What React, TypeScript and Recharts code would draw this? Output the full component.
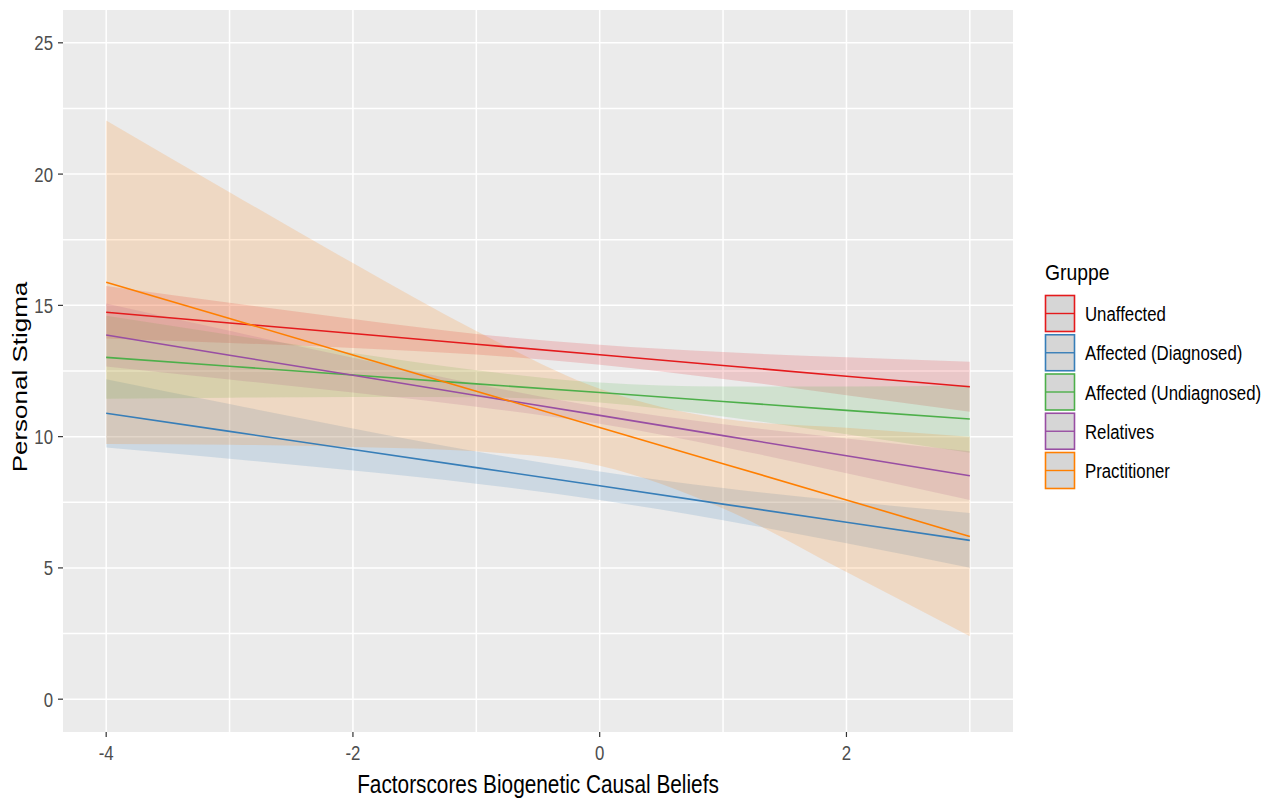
import { Area, CartesianGrid, ComposedChart, Line, XAxis, YAxis } from 'recharts'

const xs = [-4, -3, -2, -1, 0, 1, 2, 3]

const groups = ['Unaffected', 'Affected (Diagnosed)', 'Affected (Undiagnosed)', 'Relatives', 'Practitioner']
const colors = ['#E41A1C', '#377EB8', '#4DAF4A', '#984EA3', '#FF7F00']

const unaffectedFit = [14.74, 14.33, 13.93, 13.52, 13.12, 12.71, 12.3, 11.9]
const unaffectedLow = [13.74, 13.57, 13.38, 13.13, 12.74, 12.2, 11.58, 10.95]
const unaffectedHigh = [15.74, 15.1, 14.48, 13.91, 13.5, 13.22, 13.02, 12.85]

const diagnosedFit = [10.89, 10.2, 9.51, 8.82, 8.13, 7.43, 6.74, 6.05]
const diagnosedLow = [9.59, 9.16, 8.71, 8.21, 7.59, 6.82, 5.94, 5.01]
const diagnosedHigh = [12.19, 11.24, 10.31, 9.43, 8.67, 8.04, 7.54, 7.09]

const undiagnosedFit = [13.02, 12.68, 12.35, 12.01, 11.68, 11.34, 11.0, 10.67]
const undiagnosedLow = [11.44, 11.48, 11.51, 11.5, 11.3, 10.77, 10.09, 9.39]
const undiagnosedHigh = [14.6, 13.88, 13.19, 12.53, 12.06, 11.91, 11.91, 11.95]

const relativesFit = [13.87, 13.1, 12.34, 11.57, 10.81, 10.04, 9.27, 8.51]
const relativesLow = [12.67, 12.18, 11.68, 11.14, 10.49, 9.61, 8.61, 7.59]
const relativesHigh = [15.07, 14.03, 13.0, 12.0, 11.13, 10.47, 9.93, 9.44]

const practitionerFit = [15.88, 14.5, 13.11, 11.73, 10.35, 8.97, 7.59, 6.2]
const practitionerLow = [9.72, 9.69, 9.61, 9.44, 8.89, 7.26, 4.84, 2.4]
const practitionerHigh = [22.04, 19.31, 16.61, 14.02, 11.82, 10.68, 10.34, 10.0]

const fits = [unaffectedFit, diagnosedFit, undiagnosedFit, relativesFit, practitionerFit]
const lows = [unaffectedLow, diagnosedLow, undiagnosedLow, relativesLow, practitionerLow]
const highs = [unaffectedHigh, diagnosedHigh, undiagnosedHigh, relativesHigh, practitionerHigh]

const xTicks = [-4, -2, 0, 2]
const yTicks = [0, 5, 10, 15, 20, 25]
const xGrid = [-4, -3, -2, -1, 0, 1, 2, 3]
const yGrid = [0, 2.5, 5, 7.5, 10, 12.5, 15, 17.5, 20, 22.5, 25]

const data = xs.map((x, i) => {
  const row: Record<string, any> = { x }
  groups.forEach((_, g) => {
    row[`fit${g}`] = fits[g][i]
    row[`band${g}`] = [lows[g][i], highs[g][i]]
  })
  return row
})

const FONT = '"Liberation Sans", Arial, sans-serif'
const SQUEEZE = 0.8

function XTick(props: any) {
  const { x, y, payload } = props
  return (
    <g transform={`translate(${x},${y})`}>
      <text transform={`scale(${SQUEEZE},1)`} textAnchor="middle" dy="0.71em" fill="#4D4D4D" fontSize={21} fontFamily={FONT}>
        {payload.value}
      </text>
    </g>
  )
}

function YTick(props: any) {
  const { x, y, payload } = props
  return (
    <g transform={`translate(${x},${y})`}>
      <text transform={`scale(${SQUEEZE},1)`} textAnchor="end" dy="0.355em" fill="#4D4D4D" fontSize={21} fontFamily={FONT}>
        {payload.value}
      </text>
    </g>
  )
}

function XTitle(props: any) {
  const vb = props.viewBox || { x: 63, y: 732, width: 950, height: 69 }
  const cx = vb.x + vb.width / 2
  return (
    <text transform={`translate(${cx},793) scale(${SQUEEZE},1)`} textAnchor="middle" fill="#000" fontSize={26} fontFamily={FONT}>
      Factorscores Biogenetic Causal Beliefs
    </text>
  )
}

function YTitle(props: any) {
  const vb = props.viewBox || { x: 0, y: 10, width: 63, height: 722 }
  const cy = vb.y + vb.height / 2 + 6
  return (
    <text transform={`translate(27,${cy}) scale(${SQUEEZE},1) rotate(-90)`} textAnchor="middle" fill="#000" fontSize={26} fontFamily={FONT}>
      Personal Stigma
    </text>
  )
}

function GroupLegend() {
  return (
    <svg width={237} height={260} style={{ position: 'absolute', left: 1040, top: 250 }}>
      <text transform={`translate(5,30) scale(0.88,1)`} fontSize={22} fontFamily={FONT} fill="#000">
        Gruppe
      </text>
      {groups.map((name, i) => {
        const top = 45.5 + i * 39.25
        return (
          <g key={name}>
            <rect x={5.5} y={top} width={29} height={36} fill="#D6D6D6" stroke={colors[i]} strokeWidth={1.6} />
            <line x1={5.5} x2={34.5} y1={top + 18} y2={top + 18} stroke={colors[i]} strokeWidth={1.4} />
            <text transform={`translate(45,${top + 25.5}) scale(${SQUEEZE},1)`} fontSize={21} fontFamily={FONT} fill="#000">
              {name}
            </text>
          </g>
        )
      })}
    </svg>
  )
}

export default function App() {
  return (
    <div style={{ position: 'fixed', left: 0, top: 0, width: 1277, height: 801, background: '#fff', overflow: 'hidden' }}>
      <ComposedChart width={1277} height={801} data={data} margin={{ top: 10, right: 264, bottom: 0, left: 0 }}>
        <CartesianGrid
          fill="#EBEBEB"
          stroke="#FFFFFF"
          strokeWidth={1.5}
          horizontalValues={yGrid}
          verticalValues={xGrid}
        />
        <XAxis
          dataKey="x"
          type="number"
          domain={[-4.35, 3.35]}
          ticks={xTicks}
          allowDataOverflow
          height={69}
          axisLine={false}
          tickSize={5}
          tickMargin={8}
          tickLine={{ stroke: '#333333', strokeWidth: 1.2 }}
          tick={<XTick />}
          label={{ content: <XTitle /> }}
        />
        <YAxis
          type="number"
          domain={[-1.25, 26.25]}
          ticks={yTicks}
          allowDataOverflow
          width={63}
          axisLine={false}
          tickSize={5}
          tickMargin={5}
          tickLine={{ stroke: '#333333', strokeWidth: 1.2 }}
          tick={<YTick />}
          label={{ content: <YTitle /> }}
        />
        {groups.map((name, g) => (
          <Area
            key={`band-${name}`}
            dataKey={`band${g}`}
            type="monotone"
            stroke="none"
            fill={colors[g]}
            fillOpacity={0.17}
            activeDot={false}
            isAnimationActive={false}
          />
        ))}
        {groups.map((name, g) => (
          <Line
            key={`fit-${name}`}
            dataKey={`fit${g}`}
            type="linear"
            stroke={colors[g]}
            strokeWidth={1.6}
            dot={false}
            activeDot={false}
            isAnimationActive={false}
          />
        ))}
      </ComposedChart>
      <GroupLegend />
    </div>
  )
}
